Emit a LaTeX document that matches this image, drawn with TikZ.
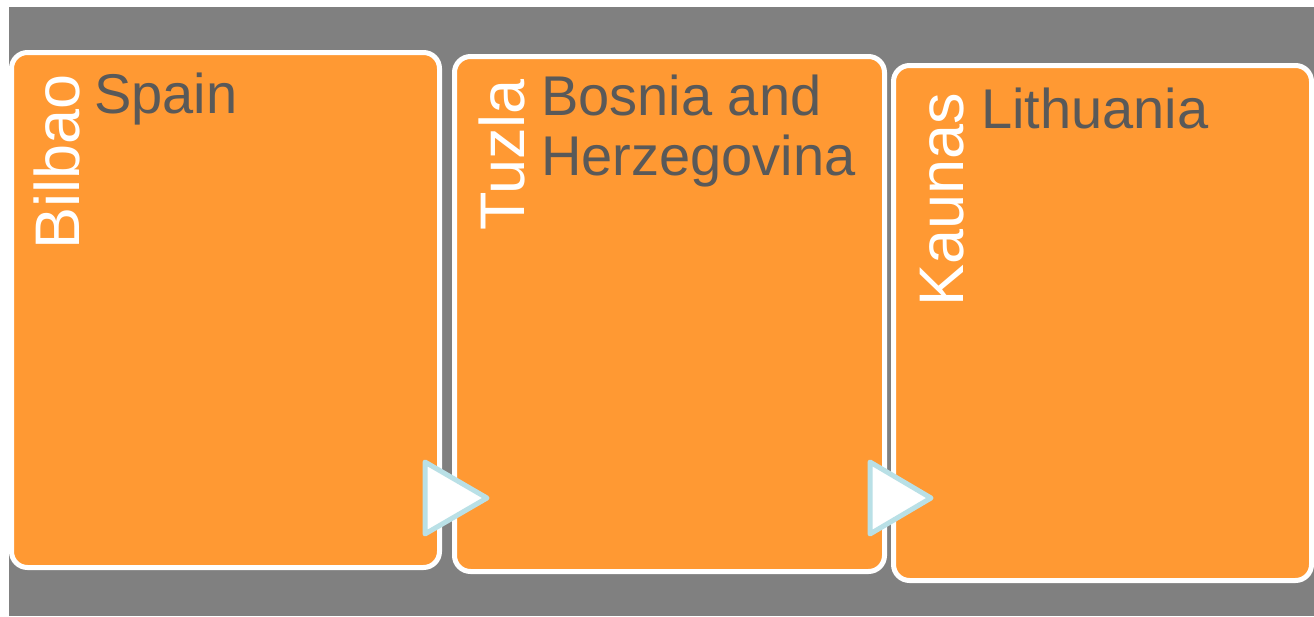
\documentclass[tikz,border=0pt]{standalone}
\usepackage{fontspec}
\setmainfont{Liberation Sans}
\definecolor{bggray}{HTML}{808080}
\definecolor{boxorange}{HTML}{FF9933}
\definecolor{txtgray}{HTML}{595959}
\definecolor{arrowblue}{HTML}{B9E0E6}
\tikzset{
  box/.style={draw=white, line width=5pt, fill=boxorange, rounded corners=16pt, inner sep=0pt},
  vlabel/.style={text=white, font=\fontsize{63}{70}\selectfont, inner sep=0pt, rotate=90, anchor=base east},
  hlabel/.style={text=txtgray, font=\fontsize{56}{60}\selectfont, inner sep=0pt, anchor=base west},
  tri/.style={draw=arrowblue, fill=white, line width=5pt, line join=round}
}
\begin{document}
\begin{tikzpicture}[x=1pt, y=-1pt]
\useasboundingbox (0,0) rectangle (1314,616);
\fill[white] (0,0) rectangle (1314,616);
\fill[bggray] (9,7) rectangle (1314,616);
% boxes
\node[box, minimum width=428pt, minimum height=515pt] (b1) at (225.5,310) {};
\node[box, minimum width=430pt, minimum height=515pt] (b2) at (669.5,314) {};
\node[box, minimum width=418pt, minimum height=515pt] (b3) at (1102.5,323) {};
% vertical labels
\node[vlabel] (v1) at (79,74) {Bilbao};
\node[vlabel] (v2) at (524,79) {Tuzla};
\node[vlabel] (v3) at (963,93) {Kaunas};
% horizontal labels
\node[hlabel] (h1) at (94,113) {Spain};
\node[hlabel] (h2a) at (541,115) {Bosnia and};
\node[hlabel] (h2b) at (541,175) {Herzegovina};
\node[hlabel] (h3) at (981,128) {Lithuania};
% arrows
\draw[tri] (425,462) -- (487,498) -- (425,534) -- cycle;
\draw[tri] (870,462) -- (931,498) -- (870,534) -- cycle;
\end{tikzpicture}
\end{document}
